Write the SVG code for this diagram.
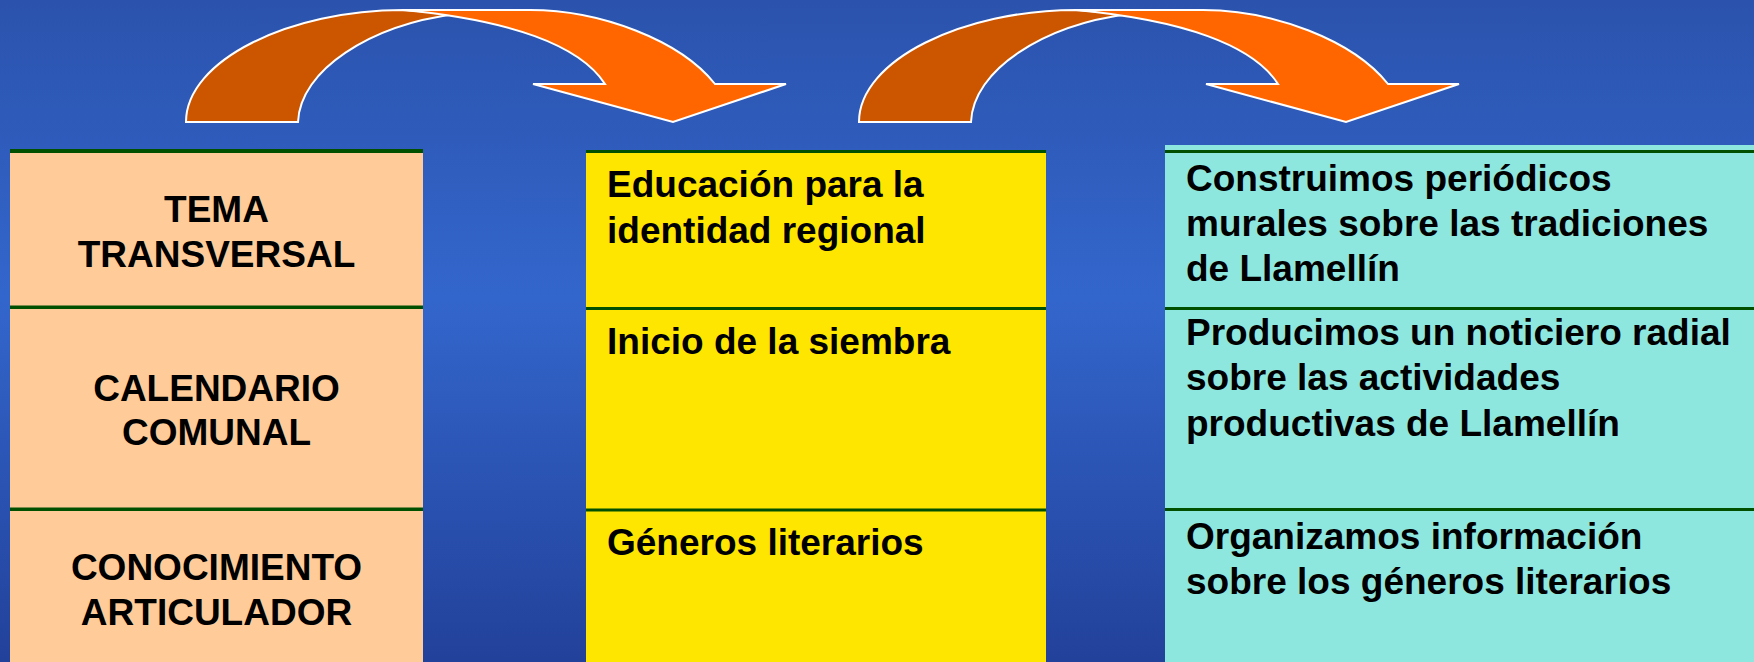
<svg xmlns="http://www.w3.org/2000/svg" width="1754" height="662" viewBox="0 0 1754 662">
<defs>
<linearGradient id="bg" x1="0" y1="0" x2="0" y2="1">
<stop offset="0" stop-color="#2b53ad"/>
<stop offset="0.45" stop-color="#3366cc"/>
<stop offset="1" stop-color="#22419a"/>
</linearGradient>
<style>
.t{font-family:"Liberation Sans",Arial,sans-serif;font-weight:bold;font-size:37px;fill:#000}
.c{text-anchor:middle}
.ln{fill:#005000}
.back{fill:#cc5500;stroke:#fff;stroke-width:2;stroke-linejoin:miter}
.front{fill:#ff6600;stroke:#fff;stroke-width:2;stroke-linejoin:miter}
</style>
<g id="curvedArrow">
<path class="back" d="M186,122 C186,60 290,10 403,10 L456,14 C370,25 300,70 298,122 Z"/>
<path class="front" d="M403,10 L530,10 C600,10 680,40 715,84 L786,84 L673,122 L533,84 L605,84 C580,45 510,20 403,10 Z"/>
</g>
</defs>
<rect width="1754" height="662" fill="url(#bg)"/>

<g id="col-left">
<rect x="10" y="151" width="413" height="511" fill="#ffcc99"/>
<g id="node-tema">
<rect class="ln" x="10" y="149" width="413" height="4"/>
<text class="t c" x="216.5" y="222">TEMA</text>
<text class="t c" x="216.5" y="267">TRANSVERSAL</text>
</g>
<g id="node-calendario">
<rect class="ln" x="10" y="305.5" width="413" height="3.5"/>
<text class="t c" x="216.5" y="401">CALENDARIO</text>
<text class="t c" x="216.5" y="445">COMUNAL</text>
</g>
<g id="node-conocimiento">
<rect class="ln" x="10" y="507.5" width="413" height="3.5"/>
<text class="t c" x="216.5" y="580">CONOCIMIENTO</text>
<text class="t c" x="216.5" y="625">ARTICULADOR</text>
</g>
</g>

<g id="col-middle">
<rect x="586" y="151" width="460" height="511" fill="#ffe600"/>
<g id="node-educacion">
<rect class="ln" x="586" y="150" width="460" height="3"/>
<text class="t" x="607" y="197">Educación para la</text>
<text class="t" x="607" y="243">identidad regional</text>
</g>
<g id="node-siembra">
<rect class="ln" x="586" y="307" width="460" height="3"/>
<text class="t" x="607" y="354">Inicio de la siembra</text>
</g>
<g id="node-generos">
<rect class="ln" x="586" y="508.5" width="460" height="3"/>
<text class="t" x="607" y="555">Géneros literarios</text>
</g>
</g>

<g id="col-right">
<rect x="1165" y="145" width="589" height="517" fill="#8ee7df"/>
<g id="node-construimos">
<rect class="ln" x="1165" y="150" width="589" height="3"/>
<text class="t" x="1186" y="191">Construimos periódicos</text>
<text class="t" x="1186" y="236">murales sobre las tradiciones</text>
<text class="t" x="1186" y="281">de Llamellín</text>
</g>
<g id="node-producimos">
<rect class="ln" x="1165" y="307" width="589" height="3"/>
<text class="t" x="1186" y="345">Producimos un noticiero radial</text>
<text class="t" x="1186" y="390">sobre las actividades</text>
<text class="t" x="1186" y="436">productivas de Llamellín</text>
</g>
<g id="node-organizamos">
<rect class="ln" x="1165" y="508" width="589" height="3"/>
<text class="t" x="1186" y="549">Organizamos información</text>
<text class="t" x="1186" y="594">sobre los géneros literarios</text>
</g>
</g>

<g id="connectors">
<use href="#curvedArrow"/>
<use href="#curvedArrow" x="673"/>
</g>
</svg>
